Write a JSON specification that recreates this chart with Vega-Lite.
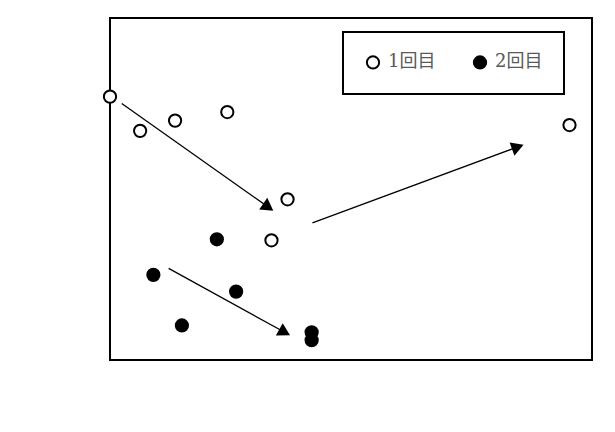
{
  "$schema": "https://vega.github.io/schema/vega-lite/v6.json",
  "width": 482,
  "height": 342,
  "autosize": {"type": "none"},
  "padding": {"left": 110, "top": 18, "right": 23, "bottom": 72},
  "background": "white",
  "config": {
    "view": {"stroke": "black", "strokeWidth": 2},
    "font": "DejaVu Serif, Noto Sans CJK JP",
    "axis": {
      "gridColor": "#d9d9d9",
      "gridWidth": 2,
      "domain": false,
      "ticks": false,
      "labelFlush": false,
      "labelOverlap": false,
      "labelFont": "DejaVu Serif",
      "labelFontSize": 18,
      "labelColor": "#595959",
      "titleFont": "DejaVu Serif, Noto Sans CJK JP",
      "titleFontSize": 24,
      "titleFontWeight": "normal",
      "titleColor": "#595959"
    }
  },
  "datasets": {
    "points": [
      {"series": "1回目", "conc": 0, "rate": 0.77},
      {"series": "1回目", "conc": 3.75, "rate": 0.67},
      {"series": "1回目", "conc": 8.1, "rate": 0.70},
      {"series": "1回目", "conc": 14.6, "rate": 0.725},
      {"series": "1回目", "conc": 22.1, "rate": 0.47},
      {"series": "1回目", "conc": 20.1, "rate": 0.35},
      {"series": "1回目", "conc": 57.2, "rate": 0.687},
      {"series": "2回目", "conc": 5.4, "rate": 0.249},
      {"series": "2回目", "conc": 8.95, "rate": 0.101},
      {"series": "2回目", "conc": 13.3, "rate": 0.353},
      {"series": "2回目", "conc": 15.7, "rate": 0.2},
      {"series": "2回目", "conc": 25.1, "rate": 0.081},
      {"series": "2回目", "conc": 25.1, "rate": 0.058}
    ],
    "arrows": [
      {"id": "a1", "xs": 1.46, "ys": 0.75, "xe": 19.7, "ye": 0.447},
      {"id": "a2", "xs": 7.3, "ys": 0.268, "xe": 21.74, "ye": 0.081},
      {"id": "a3", "xs": 25.2, "ys": 0.401, "xe": 50.76, "ye": 0.623}
    ]
  },
  "layer": [
    {
      "data": {"name": "arrows"},
      "mark": {"type": "rule", "color": "black", "strokeWidth": 1.3},
      "encoding": {
        "x": {
          "field": "xs", "type": "quantitative",
          "scale": {"domain": [0, 60], "nice": false, "zero": false},
          "axis": {"values": [0, 10, 20, 30, 40, 50, 60], "labelOverlap": false, "title": "初期気相部NO濃度 (ppm)", "labelPadding": 20, "titlePadding": 10, "titleX": 254, "titleFontSize": 25}
        },
        "y": {
          "field": "ys", "type": "quantitative",
          "scale": {"domain": [0, 1], "nice": false},
          "axis": {"values": [0, 0.1, 0.2, 0.3, 0.4, 0.5, 0.6, 0.7, 0.8, 0.9, 1], "labelOverlap": false, "format": "~g", "title": "N₂O転換率 (%)", "labelPadding": 24, "titlePadding": 14}
        },
        "x2": {"field": "xe"},
        "y2": {"field": "ye"}
      }
    },
    {
      "data": {"name": "arrows"},
      "transform": [{"filter": "datum.id == 'a1'"}],
      "mark": {"type": "point", "shape": "triangle-up", "filled": true, "color": "black", "size": 200, "angle": 125, "opacity": 1},
      "encoding": {
        "x": {"field": "xe", "type": "quantitative", "axis": null},
        "y": {"field": "ye", "type": "quantitative", "axis": null}
      }
    },
    {
      "data": {"name": "arrows"},
      "transform": [{"filter": "datum.id == 'a2'"}],
      "mark": {"type": "point", "shape": "triangle-up", "filled": true, "color": "black", "size": 200, "angle": 119, "opacity": 1},
      "encoding": {
        "x": {"field": "xe", "type": "quantitative", "axis": null},
        "y": {"field": "ye", "type": "quantitative", "axis": null}
      }
    },
    {
      "data": {"name": "arrows"},
      "transform": [{"filter": "datum.id == 'a3'"}],
      "mark": {"type": "point", "shape": "triangle-up", "filled": true, "color": "black", "size": 200, "angle": 70, "opacity": 1},
      "encoding": {
        "x": {"field": "xe", "type": "quantitative", "axis": null},
        "y": {"field": "ye", "type": "quantitative", "axis": null}
      }
    },
    {
      "data": {"name": "points"},
      "mark": {"type": "point", "shape": "circle", "filled": true, "stroke": "black", "strokeWidth": 2, "size": 150, "opacity": 1},
      "encoding": {
        "x": {"field": "conc", "type": "quantitative", "axis": null},
        "y": {"field": "rate", "type": "quantitative", "axis": null},
        "fill": {
          "field": "series", "type": "nominal",
          "scale": {"domain": ["1回目", "2回目"], "range": ["white", "black"]},
          "legend": {
            "title": null,
            "orient": "none",
            "legendX": 233,
            "legendY": 14,
            "direction": "horizontal",
            "strokeColor": "black",
            "fillColor": "white",
            "padding": 21,
            "columnPadding": 33,
            "symbolType": "circle",
            "symbolSize": 150,
            "symbolStrokeColor": "black",
            "symbolStrokeWidth": 2,
            "symbolOpacity": 1,
            "labelFont": "DejaVu Serif, Noto Sans CJK JP",
            "labelFontSize": 18,
            "labelColor": "#595959",
            "labelOffset": 6,
            "encode": {"legend": {"update": {"strokeWidth": {"value": 2}}}}
          }
        }
      }
    }
  ]
}
